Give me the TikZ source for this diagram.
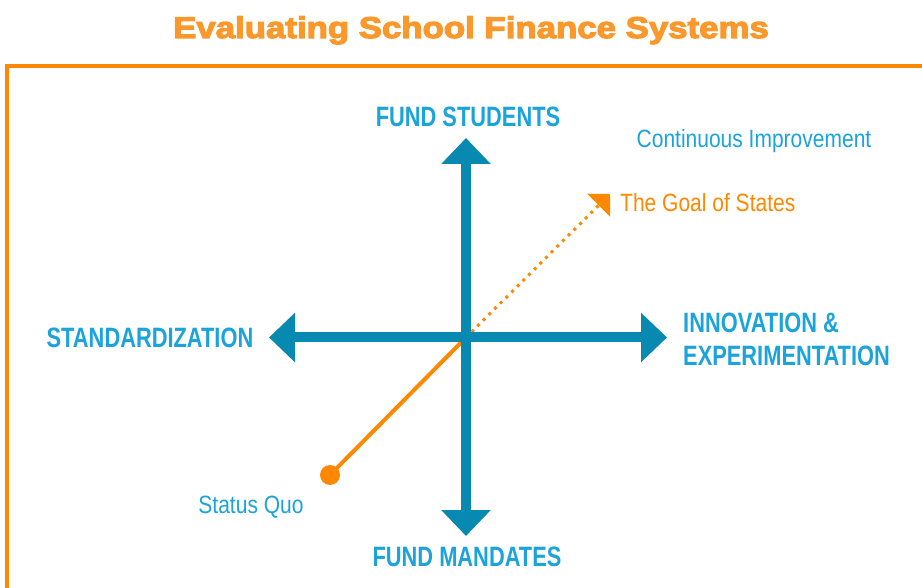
\documentclass[tikz,border=0pt]{standalone}
\usepackage{fontspec}
\setmainfont{Liberation Sans}
\newfontfamily\narrowfont[FakeStretch=0.78]{Liberation Sans}
\newfontfamily\notefont[FakeStretch=0.84]{Liberation Sans}
\newfontfamily\titlefont[FakeStretch=1.16, BoldFeatures={FakeBold=4}]{Liberation Sans}
\usepackage{xcolor}
\usetikzlibrary{arrows.meta,positioning}
\definecolor{axisblue}{RGB}{8,137,178}
\definecolor{labelblue}{RGB}{27,163,219}
\definecolor{lineorange}{RGB}{255,136,0}
\definecolor{titleorange}{RGB}{250,152,44}

\begin{document}
\begin{tikzpicture}[
            x=1pt, y=-1pt,
            axis/.style={draw=axisblue, line width=10pt,
                {Triangle[width=48pt,length=26pt]}-{Triangle[width=48pt,length=26pt]}},
            pole/.style={font=\narrowfont\bfseries\fontsize{28}{33}\selectfont, text=labelblue, inner sep=0pt},
            note/.style={font=\notefont\fontsize{25}{30}\selectfont, inner sep=0pt},
        ]
            \useasboundingbox (0,0) rectangle (922,588);
            \node[font=\titlefont\bfseries\fontsize{30}{34}\selectfont, text=titleorange, anchor=base, inner sep=0pt] (title) at (471,38) {Evaluating School Finance Systems};
            \draw[lineorange, line width=3.5pt] (922,66) -- (7,66) -- (7,588);

            \coordinate (o) at (466,337.5);
            \coordinate (up) at (466,138);
            \coordinate (down) at (466,536);
            \coordinate (left) at (269,337.5);
            \coordinate (right) at (667,337.5);
            \coordinate (quo) at (330,475);
            \coordinate (goal) at (610,194);

            \draw[lineorange, line width=4pt] (o) -- (quo);
            \fill[lineorange] (quo) circle (10);
            \draw[lineorange, line width=3pt, dash pattern=on 3pt off 5pt, -{Triangle[width=32pt,length=16pt]}] (o) -- (goal);

            \draw[axis] (left) -- (right);
            \draw[axis] (down) -- (up);

            \node[pole, anchor=base] (stud) at (468,127) {FUND STUDENTS};
            \node[pole, anchor=base] (mand) at (467,566) {FUND MANDATES};
            \node[pole, anchor=base] (std) at (150,348) {STANDARDIZATION};
            \node[pole, anchor=base west, align=left] (innov) at (683,366) {INNOVATION \&\\EXPERIMENTATION};
            \node[note, text=labelblue, anchor=base] (cont) at (754,148) {Continuous Improvement};
            \node[note, text=lineorange, anchor=base west] (goaltext) at (620,212) {The Goal of States};
            \node[note, text=labelblue, anchor=base] (sqtext) at (251,513) {Status Quo};
        \end{tikzpicture}
\end{document}
